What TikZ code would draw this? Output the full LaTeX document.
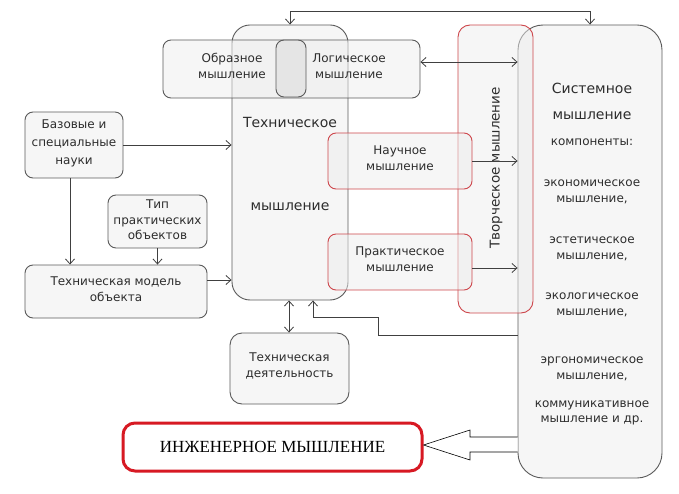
\documentclass[tikz,border=0pt]{standalone}
\usepackage{fontspec}
\setmainfont{DejaVu Sans}
\newfontfamily\serifru{Liberation Serif}
\usetikzlibrary{arrows.meta}
\definecolor{boxline}{RGB}{90,90,90}
\definecolor{redline}{RGB}{205,70,75}
\definecolor{inzhred}{RGB}{215,25,35}
\definecolor{txt}{RGB}{45,45,45}
\tikzset{
  box/.style={draw=boxline, line width=0.9pt, rounded corners=8pt, fill=gray!14, fill opacity=0.5, text opacity=1, inner sep=0pt},
  redbox/.style={box, draw=redline},
  lbl/.style={font=\fontsize{12}{15.5}\selectfont, text=txt, align=center, inner sep=0pt},
  big/.style={font=\fontsize{14}{16}\selectfont, text=txt, align=center, inner sep=0pt},
  arr/.style={-{Straight Barb[length=5pt,width=9pt]}, line width=0.8pt, draw=black!75},
  darr/.style={{Straight Barb[length=5pt,width=9pt]}-{Straight Barb[length=5pt,width=9pt]}, line width=0.8pt, draw=black!75}
}
\begin{document}
\begin{tikzpicture}[x=1pt,y=-1pt]
\useasboundingbox (0,0) rectangle (679,494);
% boxes
\node[box, rounded corners=18pt, minimum width=116pt, minimum height=275pt] (tech) at (290,162.5) {};
\node[box, minimum width=257pt, minimum height=58pt] (obr) at (291.5,69) {};
\node[box, fill=gray!30, minimum width=30pt, minimum height=57pt] (mid) at (291,68.5) {};
\node[box, rounded corners=25pt, minimum width=144pt, minimum height=453pt] (sys) at (590,251.5) {};
\node[redbox, rounded corners=12pt, minimum width=75pt, minimum height=288pt] (tvor) at (495.5,169) {};
\node[redbox, minimum width=144pt, minimum height=56pt] (nauch) at (400,161) {};
\node[redbox, minimum width=144pt, minimum height=56pt] (prakt) at (400,262) {};
\node[box, minimum width=98pt, minimum height=66pt] (base) at (74,145) {};
\node[box, minimum width=99pt, minimum height=53pt] (tip) at (157.5,221.5) {};
\node[box, minimum width=182pt, minimum height=53pt] (model) at (116,291.5) {};
\node[box, rounded corners=12pt, minimum width=119pt, minimum height=71pt] (deyat) at (289.5,368.5) {};
\node[draw=inzhred, line width=3pt, rounded corners=12pt, fill=white, minimum width=299pt, minimum height=48pt] (inzh) at (272.5,447) {};
% texts
\node[lbl] (tobr) at (232,66) {Образное\\мышление};
\node[lbl] (tlog) at (349,66) {Логическое\\мышление};
\node[big] (ttech1) at (290,122) {Техническое};
\node[big] (ttech2) at (290,207) {мышление};
\node[lbl] (tnauch) at (400,158) {Научное\\мышление};
\node[lbl] (tprakt) at (400,259) {Практическое\\мышление};
\node[lbl, font=\fontsize{13.5}{16}\selectfont, rotate=90] (ttvor) at (496,168) {Творческое мышление};
\node[lbl, font=\fontsize{12}{18}\selectfont] (tbase) at (74,143) {Базовые и\\специальные\\науки};
\node[lbl] (ttip) at (157.5,220) {Тип\\практических\\объектов};
\node[lbl] (tmodel) at (116,289) {Техническая модель\\объекта};
\node[lbl] (tdeyat) at (289.5,366) {Техническая\\деятельность};
\node[font=\serifru\fontsize{17}{19}\selectfont, text=black, inner sep=0pt] (tinzh) at (272.5,447) {ИНЖЕНЕРНОЕ МЫШЛЕНИЕ};
\node[big] (ts1) at (592,88) {Системное};
\node[big] (ts2) at (592,116) {мышление};
\node[lbl] (ts3) at (592,142) {компоненты:};
\node[lbl] (ts4) at (592,192) {экономическое\\мышление,};
\node[lbl] (ts5) at (592,249) {эстетическое\\мышление,};
\node[lbl] (ts6) at (592,305) {экологическое\\мышление,};
\node[lbl] (ts7) at (592,369) {эргономическое\\мышление,};
\node[lbl] (ts8) at (592,413) {коммуникативное\\мышление и др.};
% helper coordinates
\coordinate (y62) at (0,62);
\coordinate (y280) at (0,280);
\coordinate (y268) at (0,268);
\coordinate (y335) at (0,335);
\coordinate (k1) at (378,317);
\path (tech.south) ++(23,0) coordinate (t1);
% connectors
\draw[darr] (tech.north) -- ++(0,-13) -| (sys.north);
\draw[darr] (obr.east |- y62) -- (sys.west |- y62);
\draw[arr] (base.east) -- (base.east -| tech.west);
\draw[arr] (base.south -| 70,0) -- (model.north -| 70,0);
\draw[arr] (tip.south) -- (tip.south |- model.north);
\draw[arr] (model.east |- y280) -- (tech.west |- y280);
\draw[arr] (nauch.east) -- (nauch.east -| sys.west);
\draw[arr] (prakt.east |- y268) -- (sys.west |- y268);
\draw[darr] (deyat.north -| 289,0) -- (tech.south -| 289,0);
\draw[arr] (sys.west |- y335) -| (k1) -| (t1);
% hollow arrow
\draw[line width=0.6pt, fill=white] (sys.west |- 0,437) -- (470,437) -- (470,430) -- (inzh.east |- 0,445) -- (470,460) -- (470,452) -- (sys.west |- 0,452);
\end{tikzpicture}
\end{document}
